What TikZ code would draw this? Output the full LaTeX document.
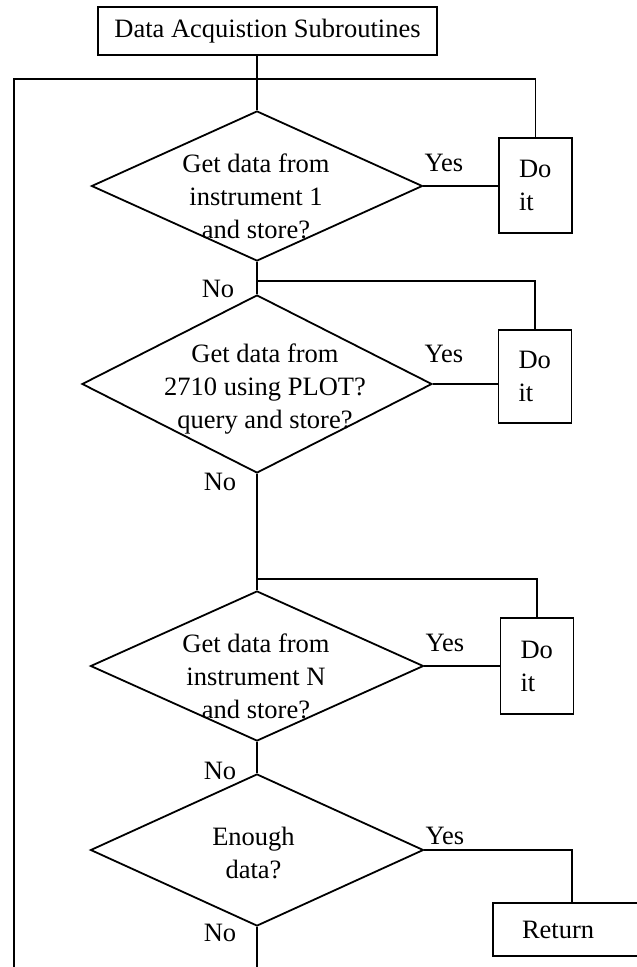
\documentclass[tikz,border=0pt]{standalone}
\usepackage{fontspec}
\setmainfont{Liberation Serif}
\usetikzlibrary{shapes.geometric}

\begin{document}
\begin{tikzpicture}[x=1pt, y=-1pt, line width=1.3pt,
    every node/.style={font=\fontsize{26.5}{33}\selectfont, inner sep=0pt},
    decision/.style={diamond, draw, line width=1.8pt, minimum width=333pt, minimum height=152pt},
    box/.style={rectangle, draw, line width=1.6pt},
    doit/.style={box, minimum width=73pt, minimum height=95pt, text width=33pt, inner xsep=20pt, align=left}]
    \useasboundingbox (0,0) rectangle (637,967);
    \clip (0,0) rectangle (637,967);

    \node[box, minimum width=339pt, minimum height=48pt] (T) at (267.5,31) {Data Acquistion Subroutines};

    \node[decision, minimum width=331pt, minimum height=150pt] (D1) at (257,186) {};
    \node[align=center] (Q1) at (256,196) {Get data from\\instrument 1\\and store?};
    \node[doit] (Do1) at (535.5,185.5) {Do\\it};
    \node (Y1) at (444,163) {Yes};
    \node (N1) at (218,289) {No};

    \node[decision, minimum width=350pt, minimum height=178pt] (D2) at (257,384) {};
    \node[align=center] (Q2) at (265,389) {Get data from\\2710 using PLOT?\\query and store?};
    \node[doit, minimum height=93pt] (Do2) at (535,376.5) {Do\\it};
    \node (Y2) at (444,354) {Yes};
    \node (N2) at (220,482) {No};

    \node[decision, minimum height=150pt] (D3) at (257,666) {};
    \node[align=center] (Q3) at (256,676) {Get data from\\instrument N\\and store?};
    \node[doit, minimum height=96pt] (Do3) at (537,666) {Do\\it};
    \node (Y3) at (445,643) {Yes};
    \node (N3) at (220,771) {No};

    \node[decision] (D4) at (257,850) {};
    \node[align=center] (Q4) at (253.5,853) {Enough\\data?};
    \node (Y4) at (445,836) {Yes};
    \node (N4) at (220,933) {No};
    \node[box, minimum width=158pt, minimum height=53pt, text width=100pt, inner xsep=29pt, align=left] (R) at (572,929.5) {Return};

    \coordinate (L) at (14,967);
    \coordinate (B) at (257,967);
    \coordinate (J1) at (257,79);
    \coordinate (J2) at (257,281);
    \coordinate (J3) at (257,579);

    \draw (T.south -| J1) -- (D1.north);
    \draw (L) |- (J1) -| (Do1.north);
    \draw (D1.east) -- (D1.east -| Do1.west);
    \draw (D1.south) -- (D2.north);
    \draw (J2) -| (Do2.north);
    \draw (D2.east) -- (D2.east -| Do2.west);
    \draw (D2.south) -- (D3.north);
    \draw (J3) -| (Do3.north);
    \draw (D3.east) -- (D3.east -| Do3.west);
    \draw (D3.south) -- (D4.north);
    \draw (D4.east) -| (R.north);
    \draw (D4.south) -- (B);
\end{tikzpicture}
\end{document}
